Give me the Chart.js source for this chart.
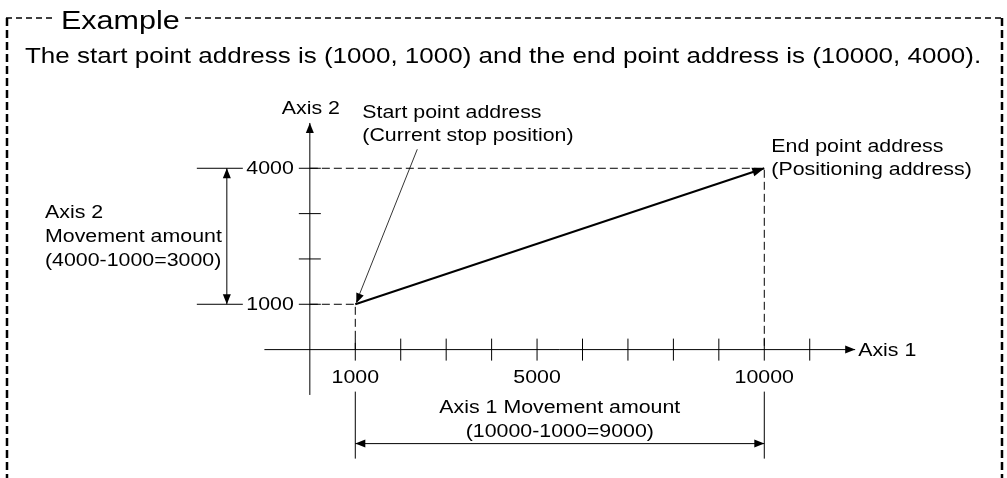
<!DOCTYPE html>
<html>
<head>
<meta charset="utf-8">
<script src="https://cdn.jsdelivr.net/npm/chart.js@4"></script>
<style>
  html, body { margin: 0; padding: 0; background: #fff; }
  #wrap { width: 1007px; height: 478px; position: relative; }
</style>
</head>
<body>
<div id="wrap"><canvas id="moveChart"></canvas></div>
<script>
// Positioning data (addresses)
const startPoint = { x: 1000, y: 1000 };
const endPoint = { x: 10000, y: 4000 };

// Axis extents and ticks
const axis1Range = [-1000, 12000];
const axis2Range = [-1000, 5000];
const axis1Ticks = [1000, 2000, 3000, 4000, 5000, 6000, 7000, 8000, 9000, 10000, 11000];
const axis1Labels = [1000, 5000, 10000];
const axis2Ticks = [1000, 2000, 3000, 4000];
const axis2Labels = [1000, 4000];

// Texts
const titleText = 'Example';
const introText = 'The start point address is (1000, 1000) and the end point address is (10000, 4000).';
const startText = ['Start point address', '(Current stop position)'];
const endText = ['End point address', '(Positioning address)'];
const axis2MoveText = ['Axis 2', 'Movement amount', '(4000-1000=3000)'];
const axis1MoveText = ['Axis 1 Movement amount', '(10000-1000=9000)'];

const FONT = '"Liberation Sans", Arial, sans-serif';
const SX = 1.22; // reference text is drawn a little wide
const LBL = 17.5;

function drawText(ctx, s, x, y, size, align) {
  ctx.save();
  ctx.translate(x, y);
  ctx.scale(SX, 1);
  ctx.font = size + 'px ' + FONT;
  ctx.textAlign = align || 'left';
  ctx.textBaseline = 'alphabetic';
  ctx.fillStyle = '#000';
  ctx.fillText(s, 0, 0);
  ctx.restore();
}

function line(ctx, x1, y1, x2, y2, w, dash) {
  ctx.save();
  ctx.lineWidth = w || 1;
  ctx.setLineDash(dash || []);
  ctx.strokeStyle = '#000';
  ctx.beginPath();
  ctx.moveTo(x1, y1);
  ctx.lineTo(x2, y2);
  ctx.stroke();
  ctx.restore();
}

// filled arrow head, tip at (x, y), pointing along angle a
function arrowHead(ctx, x, y, a, len, half) {
  len = len || 10; half = half || 4;
  const c = Math.cos(a), s = Math.sin(a);
  ctx.save();
  ctx.fillStyle = '#000';
  ctx.beginPath();
  ctx.moveTo(x, y);
  ctx.lineTo(x - len * c + half * s, y - len * s - half * c);
  ctx.lineTo(x - len * c - half * s, y - len * s + half * c);
  ctx.closePath();
  ctx.fill();
  ctx.restore();
}

const diagramPlugin = {
  id: 'diagram',
  afterDatasetsDraw(chart) {
    const ctx = chart.ctx;
    const px = v => chart.scales.x.getPixelForValue(v);
    const py = v => chart.scales.y.getPixelForValue(v);
    const ox = px(0), oy = py(0);

    // outer dashed frame with title
    line(ctx, 7, 18, 7, 478, 2.5, [8, 4]);
    line(ctx, 1002, 18, 1002, 478, 2.5, [8, 4]);
    line(ctx, 6, 18, 52, 18, 1.5, [6, 4]);
    line(ctx, 185, 18, 1003, 18, 1.5, [6, 4]);
    drawText(ctx, titleText, 61, 29, 25);
    drawText(ctx, introText, 25, 63, 21.3);

    // axis arrow heads and ticks
    arrowHead(ctx, px(axis1Range[1]), oy, 0, 10, 4);
    arrowHead(ctx, ox, py(axis2Range[1]), -Math.PI / 2, 10, 4);
    axis1Ticks.forEach(v => line(ctx, px(v), oy - 11, px(v), oy + 11, 1));
    axis2Ticks.forEach(v => line(ctx, ox - 11, py(v), ox + 11, py(v), 1));

    // tick labels
    axis1Labels.forEach(v => drawText(ctx, String(v), px(v), oy + 33, LBL, 'center'));
    axis2Labels.forEach(v => drawText(ctx, String(v), ox - 16, py(v) + 6, LBL, 'right'));
    drawText(ctx, 'Axis 1', px(axis1Range[1]) + 3, oy + 6, LBL);
    drawText(ctx, 'Axis 2', ox + 1, py(axis2Range[1]) - 9, LBL, 'center');

    // movement arrow head at end point
    const sx = px(startPoint.x), sy = py(startPoint.y);
    const ex = px(endPoint.x), ey = py(endPoint.y);
    arrowHead(ctx, ex, ey, Math.atan2(ey - sy, ex - sx), 12, 4.5);

    // start point callout
    const cx = sx + 62, cy = sy - 155;
    line(ctx, cx, cy, sx + 1, sy - 2, 0.8);
    arrowHead(ctx, sx + 1, sy - 1, Math.atan2(sy - cy, sx - cx), 10, 4);
    drawText(ctx, startText[0], sx + 7, 118, LBL);
    drawText(ctx, startText[1], sx + 7, 141, LBL);

    // end point label
    drawText(ctx, endText[0], ex + 7, 152, LBL);
    drawText(ctx, endText[1], ex + 7, 175, LBL);

    // axis 2 movement dimension
    const dimX = ox - 83;
    line(ctx, ox - 113, ey, ox - 67, ey, 1);
    line(ctx, ox - 113, sy, ox - 67, sy, 1);
    line(ctx, dimX, ey, dimX, sy, 1);
    arrowHead(ctx, dimX, ey, -Math.PI / 2, 10, 4);
    arrowHead(ctx, dimX, sy, Math.PI / 2, 10, 4);
    axis2MoveText.forEach((t, i) => drawText(ctx, t, 45, 218 + i * 24, LBL));

    // axis 1 movement dimension
    const dimY = oy + 94;
    line(ctx, sx, oy + 42, sx, oy + 109, 1);
    line(ctx, ex, oy + 42, ex, oy + 109, 1);
    line(ctx, sx, dimY, ex, dimY, 1);
    arrowHead(ctx, sx, dimY, Math.PI, 10, 4);
    arrowHead(ctx, ex, dimY, 0, 10, 4);
    const mid = (sx + ex) / 2;
    drawText(ctx, axis1MoveText[0], mid, oy + 63, LBL, 'center');
    drawText(ctx, axis1MoveText[1], mid, oy + 87, LBL, 'center');
  }
};

const solid = (data, w) => ({ data, showLine: true, borderColor: '#000', borderWidth: w, pointRadius: 0, fill: false, tension: 0 });
const dashed = data => ({ data, showLine: true, borderColor: '#000', borderWidth: 1, borderDash: [8, 4], pointRadius: 0, fill: false, tension: 0 });

new Chart(document.getElementById('moveChart'), {
  type: 'scatter',
  data: {
    datasets: [
      solid([startPoint, endPoint], 2),
      solid([{ x: axis1Range[0], y: 0 }, { x: axis1Range[1], y: 0 }], 1),
      solid([{ x: 0, y: axis2Range[0] }, { x: 0, y: axis2Range[1] }], 1),
      dashed([{ x: 0, y: endPoint.y }, { x: endPoint.x, y: endPoint.y }, { x: endPoint.x, y: 0 }]),
      dashed([{ x: 0, y: startPoint.y }, { x: startPoint.x, y: startPoint.y }, { x: startPoint.x, y: 0 }])
    ]
  },
  options: {
    responsive: true,
    maintainAspectRatio: false,
    animation: false,
    layout: { padding: 0 },
    plugins: { legend: { display: false }, tooltip: { enabled: false } },
    scales: {
      x: { type: 'linear', display: false, min: -6818, max: 15341 },
      y: { type: 'linear', display: false, min: -2832, max: 7712 }
    }
  },
  plugins: [diagramPlugin]
});
</script>
</body>
</html>
